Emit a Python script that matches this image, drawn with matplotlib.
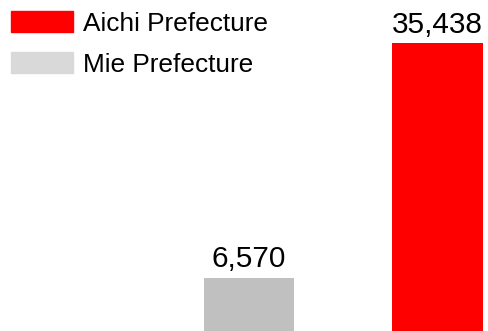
import matplotlib.pyplot as plt
from matplotlib.patches import Patch

plt.rcParams['font.family'] = ['Liberation Sans', 'DejaVu Sans']

regions = ['Mie Prefecture', 'Aichi Prefecture']
values = [6570, 35438]
bar_colors = ['#c0c0c0', '#ff0000']
legend_colors = {'Aichi Prefecture': '#ff0000', 'Mie Prefecture': '#d9d9d9'}

fig = plt.figure(figsize=(4.88, 3.31), dpi=100)
ax = fig.add_axes([0, 0, 1, 1])

x = list(range(len(values)))
bars = ax.bar(x, values, width=0.48, color=bar_colors)
for b, v in zip(bars, values):
    ax.annotate(f'{v:,}', (b.get_x() + b.get_width() / 2, v),
                xytext=(0, 3), textcoords='offset points',
                ha='center', va='bottom', fontsize=21.4)

ax.set_xlim(-1.321, 1.268)
ax.set_ylim(0, 35438 * 331 / 288)
ax.axis('off')

handles = [Patch(color=legend_colors[k], label=k)
           for k in ['Aichi Prefecture', 'Mie Prefecture']]
fig.legend(handles=handles, loc='upper left',
           bbox_to_anchor=(11 / 488, 1 - 11 / 331),
           frameon=False, fontsize=18.9, borderpad=0, borderaxespad=0,
           handlelength=2.37, handleheight=0.88, handletextpad=0.38,
           labelspacing=0.61)

fig.savefig('out.png', dpi=100)
